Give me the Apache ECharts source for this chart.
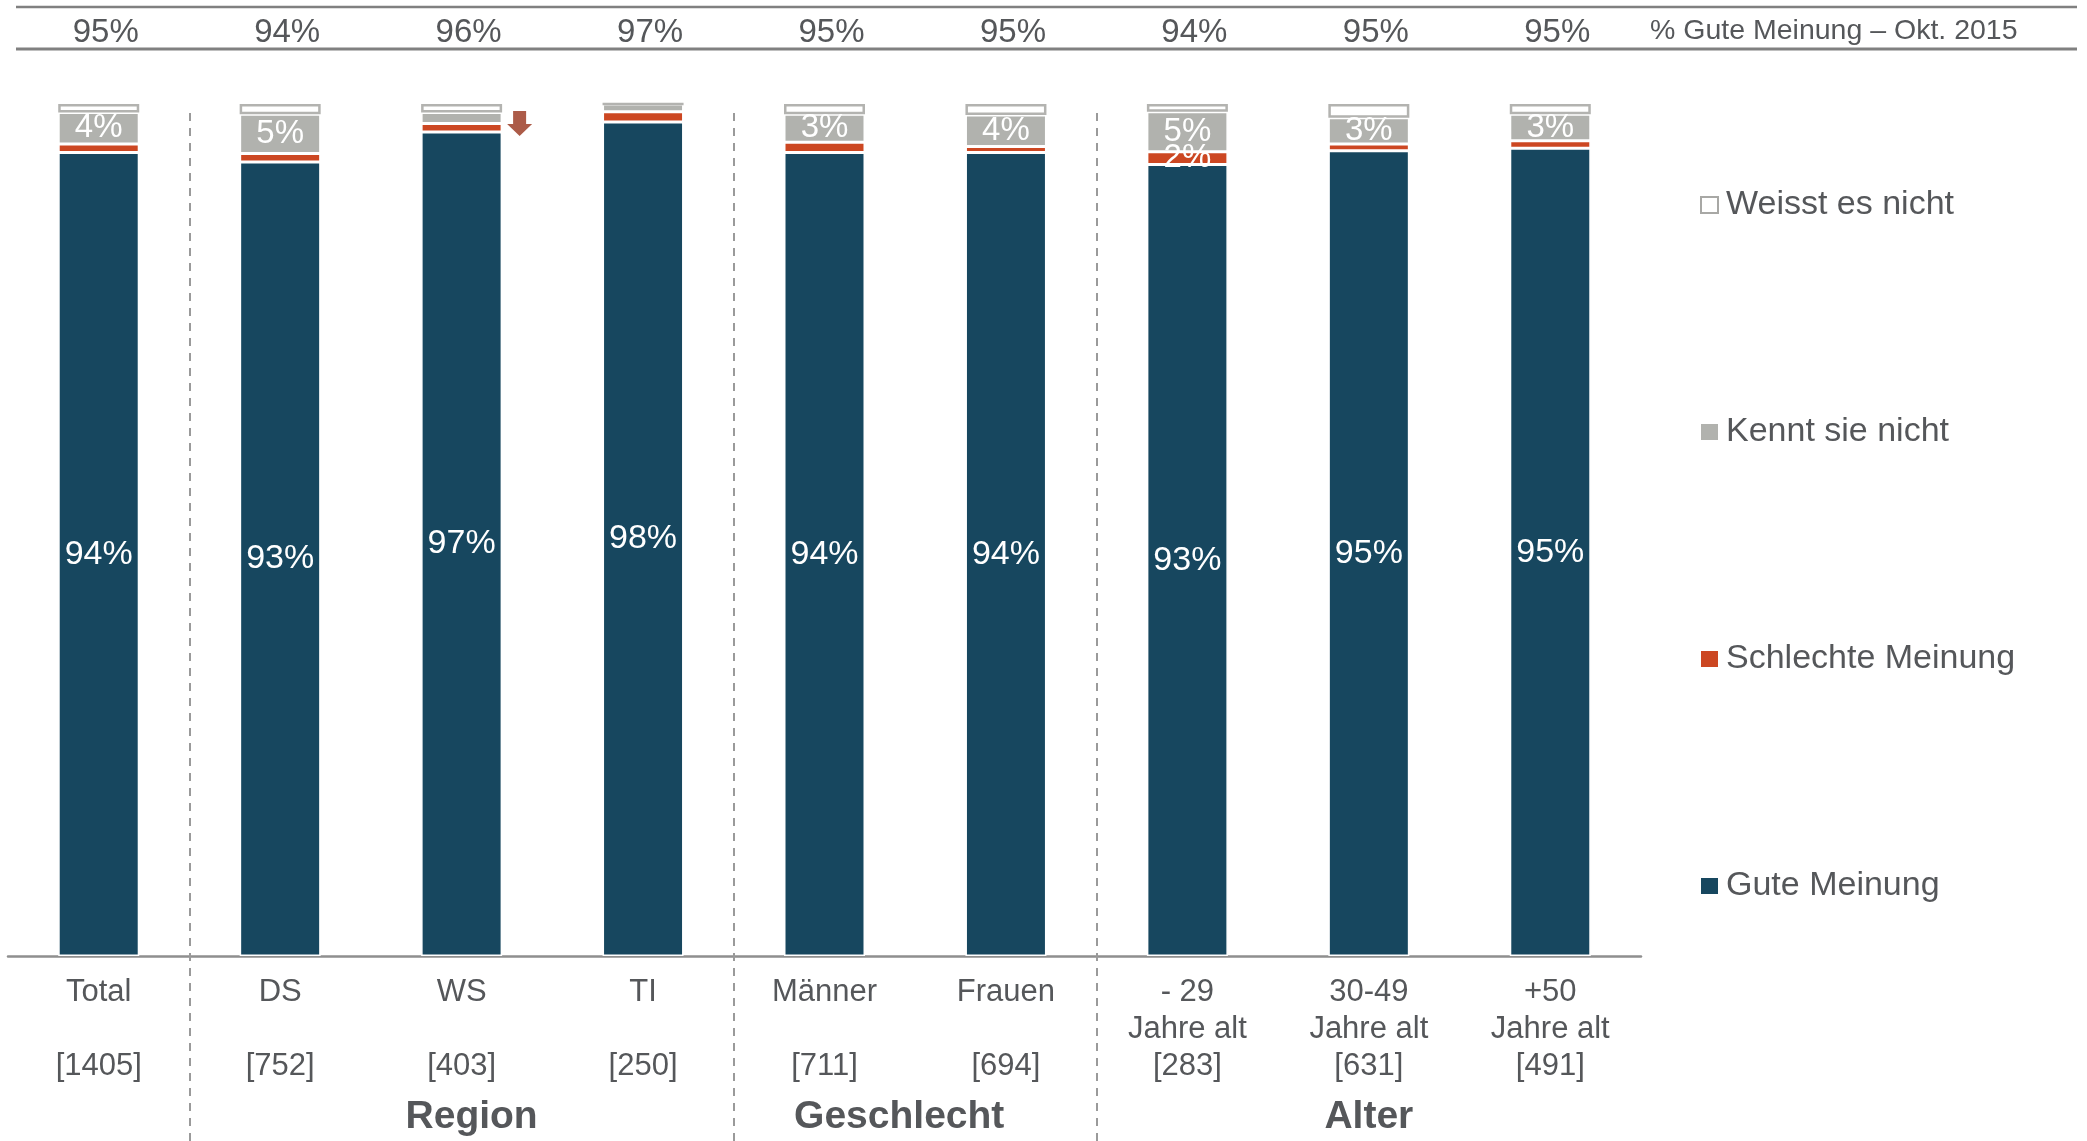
<!DOCTYPE html>
<html>
<head>
<meta charset="utf-8">
<script src="https://cdn.jsdelivr.net/npm/echarts@6/dist/echarts.min.js"></script>
<style>
html,body{margin:0;padding:0;background:#fff;}
#chart{width:2087px;height:1141px;}
</style>
</head>
<body>
<div id="chart"></div>
<script>
// ---- data ----
const categories = ['Total', 'DS', 'WS', 'TI', 'Männer', 'Frauen', '- 29', '30-49', '+50'];
const subLines = ['', '', '', '', '', '', 'Jahre alt', 'Jahre alt', 'Jahre alt'];
const sampleSizes = [1405, 752, 403, 250, 711, 694, 283, 631, 491];
const goodOct2015 = [95, 94, 96, 97, 95, 95, 94, 95, 95];
const gute = [94.3, 93.2, 96.7, 97.9, 94.3, 94.3, 92.9, 94.5, 94.8];
const schlechte = [1, 1, 1, 1.2, 1.2, 0.7, 1.5, 0.8, 0.9];
const kennt = [3.7, 4.6, 1.3, 0.9, 3.3, 3.7, 4.7, 3.1, 3.1];
const weiss = [1, 1.2, 1, 0, 1.2, 1.3, 0.9, 1.6, 1.2];
const decreaseMarks = ['WS'];
const groups = [
  { name: 'Region', from: 'DS', to: 'TI' },
  { name: 'Geschlecht', from: 'Männer', to: 'Frauen' },
  { name: 'Alter', from: '- 29', to: '+50' }
];
const separatorsBefore = ['DS', 'Männer', '- 29'];
const legendNames = ['Weisst es nicht', 'Kennt sie nicht', 'Schlechte Meinung', 'Gute Meinung'];
const headerTitle = '% Gute Meinung – Okt. 2015';

// ---- style ----
const FONT = '"Liberation Sans", Arial, sans-serif';
const TXT = '#55575a';
const C_BLUE = '#17475f', C_RED = '#cc4722', C_GREY = '#b1b2ae';
const groupLabelNudge = [10, -16, 0];

const catLabels = categories.map((c, i) => c + '\n' + subLines[i] + '\n[' + sampleSizes[i] + ']');
const sepIdx = separatorsBefore.map(n => categories.indexOf(n));
const arrowData = categories.map((c, i) =>
  decreaseMarks.includes(c) ? gute[i] + schlechte[i] : null);

const chart = echarts.init(document.getElementById('chart'), null, { renderer: 'canvas' });

const gridBase = { left: 8, right: 446, outerBoundsMode: 'none', containLabel: false };
const pct = p => Math.round(p.value) + '%';

const option = {
  backgroundColor: '#fff',
  animation: false,
  textStyle: { fontFamily: FONT },
  title: {
    text: headerTitle,
    left: 1645, top: 12,
    textStyle: { fontFamily: FONT, fontSize: 28.5, fontWeight: 'normal', color: TXT }
  },
  legend: {
    orient: 'vertical',
    left: 1695, top: 183,
    itemWidth: 17, itemHeight: 16,
    itemGap: 193,
    icon: 'rect',
    textStyle: { fontFamily: FONT, fontSize: 34, color: TXT, lineHeight: 34, padding: [0, 0, 0, 3] },
    data: [
      { name: legendNames[0], itemStyle: { color: '#fff', borderColor: '#a8a8a5', borderWidth: 2 } },
      { name: legendNames[1], itemStyle: { borderWidth: 0 } },
      { name: legendNames[2], itemStyle: { borderWidth: 0 } },
      { name: legendNames[3], itemStyle: { borderWidth: 0 } }
    ],
    selectedMode: false
  },
  grid: [
    Object.assign({ top: 104, bottom: 185 }, gridBase),
    Object.assign({ top: 110, bottom: 0 }, gridBase)
  ],
  xAxis: [
    {
      type: 'category', gridIndex: 0, data: catLabels,
      axisLine: { show: true, lineStyle: { color: '#8f8f8f', width: 2.5 } },
      axisTick: { show: false },
      axisLabel: {
        interval: 0, margin: 17.5, fontFamily: FONT, fontSize: 31, color: TXT,
        lineHeight: 37, align: 'center'
      }
    },
    {
      type: 'category', gridIndex: 0, position: 'top', data: goodOct2015.map(v => v + '%'),
      axisLine: { show: false }, axisTick: { show: false },
      axisLabel: {
        interval: 0, margin: 71, verticalAlign: 'middle', fontFamily: FONT, fontSize: 33,
        color: TXT, padding: [0, 0, 0, 14]
      }
    },
    {
      type: 'value', gridIndex: 1, min: 0, max: categories.length, show: false
    }
  ],
  yAxis: [
    { type: 'value', gridIndex: 0, min: 0, max: 100, show: false },
    { type: 'value', gridIndex: 1, min: 0, max: 1, show: false }
  ],
  series: [
    {
      name: legendNames[3], type: 'bar', stack: 'total', xAxisIndex: 0, yAxisIndex: 0,
      data: gute, barWidth: 81,
      itemStyle: { color: C_BLUE, borderColor: '#fff', borderWidth: 1.5 },
      label: { show: true, position: 'inside', color: '#fff', fontFamily: FONT, fontSize: 34, formatter: pct }
    },
    {
      name: legendNames[2], type: 'bar', stack: 'total', xAxisIndex: 0, yAxisIndex: 0,
      data: schlechte, barWidth: 81,
      itemStyle: { color: C_RED, borderColor: '#fff', borderWidth: 1.5 },
      label: {
        show: true, position: 'inside', color: '#fff', fontFamily: FONT, fontSize: 33,
        formatter: p => (p.value >= 1.5 ? pct(p) : '')
      }
    },
    {
      name: legendNames[1], type: 'bar', stack: 'total', xAxisIndex: 0, yAxisIndex: 0,
      data: kennt, barWidth: 81,
      itemStyle: { color: C_GREY, borderColor: '#fff', borderWidth: 1.5 },
      label: {
        show: true, position: 'inside', color: '#fff', fontFamily: FONT, fontSize: 33,
        formatter: p => (p.value >= 2 ? pct(p) : '')
      }
    },
    {
      name: legendNames[0], type: 'bar', stack: 'total', xAxisIndex: 0, yAxisIndex: 0,
      data: weiss, barWidth: 81,
      itemStyle: { color: '#fff', borderColor: '#b3b3b0', borderWidth: 2.5 },
      label: { show: false }
    },
    {
      name: 'Rückgang', type: 'scatter', xAxisIndex: 0, yAxisIndex: 0,
      data: arrowData,
      symbol: 'path://M6,0 L19,0 L19,13 L25,13 L12.5,25 L0,13 L6,13 Z',
      symbolSize: [25, 25], symbolOffset: [58, 0],
      itemStyle: { color: '#97321a' },
      z: 5
    },
    {
      name: 'Trenner', type: 'line', xAxisIndex: 2, yAxisIndex: 1, data: [],
      markLine: {
        silent: true, symbol: 'none',
        label: { show: false },
        lineStyle: { color: '#9a9a9a', width: 2, type: [8, 7] },
        data: sepIdx.map(i => ({ xAxis: i }))
      }
    }
  ]
};

chart.setOption(option);

// header rules and group titles, positioned via the axis scale
const graphics = [
  { type: 'line', shape: { x1: 16, y1: 7, x2: 2077, y2: 7 }, style: { stroke: '#808080', lineWidth: 2.5 } },
  { type: 'line', shape: { x1: 16, y1: 49, x2: 2077, y2: 49 }, style: { stroke: '#808080', lineWidth: 3 } }
];
groups.forEach((g, k) => {
  const x1 = chart.convertToPixel({ xAxisIndex: 0 }, catLabels[categories.indexOf(g.from)]);
  const x2 = chart.convertToPixel({ xAxisIndex: 0 }, catLabels[categories.indexOf(g.to)]);
  graphics.push({
    type: 'text', x: (x1 + x2) / 2 + groupLabelNudge[k], y: 1117,
    style: {
      text: g.name, fontFamily: FONT, fontSize: 39, fontWeight: 'bold', fill: TXT,
      textAlign: 'center', textVerticalAlign: 'middle'
    }
  });
});
chart.setOption({ graphic: graphics });
</script>
</body>
</html>
